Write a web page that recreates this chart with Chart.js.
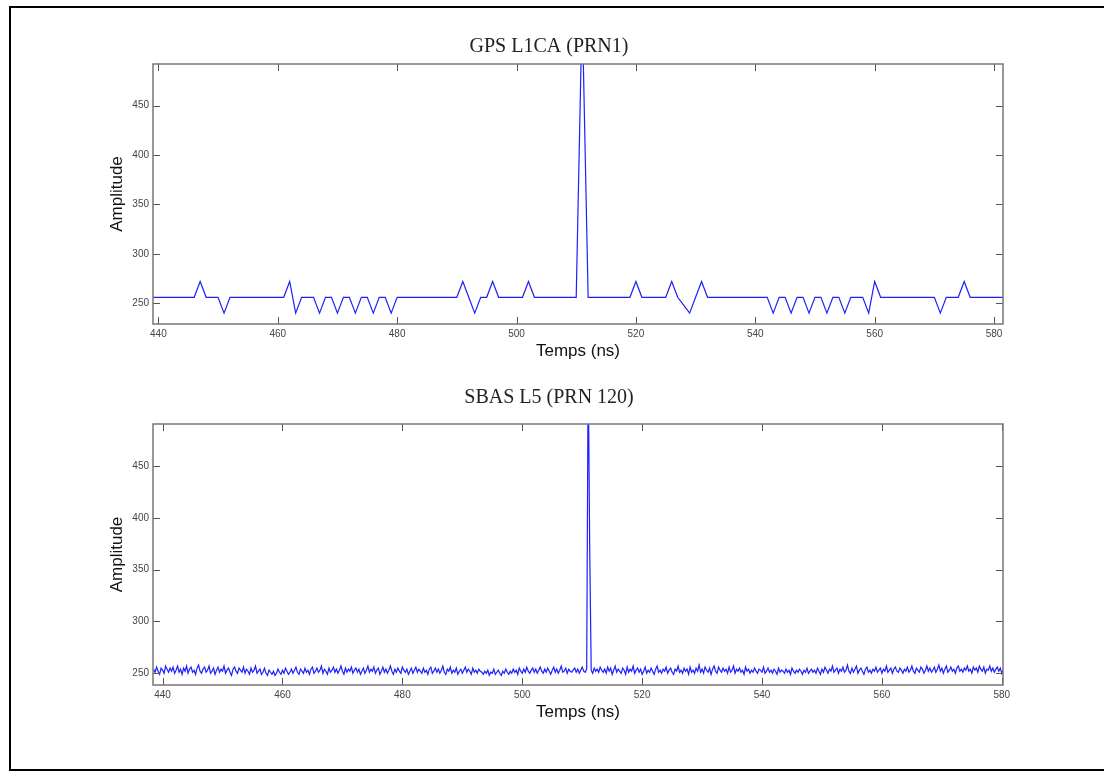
<!DOCTYPE html>
<html>
<head>
<meta charset="utf-8">
<script src="https://cdn.jsdelivr.net/npm/chart.js@4"></script>
<style>
  body { margin: 0; background: #fff; width: 1104px; height: 772px; overflow: hidden; position: relative; }
  #frame { position: absolute; left: 9px; top: 6px; width: 1110px; height: 761px; border: 2px solid #000; border-right: none; }
  .plot { position: absolute; left: 95px; width: 966px; }
  #gpsChart { top: 0px; height: 370px; }
  #sbasChart { top: 375px; height: 355px; }
</style>
</head>
<body>
<div id="frame"></div>
<canvas id="gpsChart" class="plot" width="966" height="370"></canvas>
<canvas id="sbasChart" class="plot" width="966" height="355"></canvas>
<script>
// GPS L1CA (PRN1) - one sample per ns, starting at 439 ns
const gpsStart = 439;
const gpsStep = 1;
const gpsValues = [
    256, 256, 256, 256, 256, 256, 256, 256, 272, 256, // 439-448
    256, 256, 240, 256, 256, 256, 256, 256, 256, 256, // 449-458
    256, 256, 256, 272, 240, 256, 256, 256, 240, 256, // 459-468
    256, 240, 256, 256, 240, 256, 256, 240, 256, 256, // 469-478
    240, 256, 256, 256, 256, 256, 256, 256, 256, 256, // 479-488
    256, 256, 272, 256, 240, 256, 256, 272, 256, 256, // 489-498
    256, 256, 256, 272, 256, 256, 256, 256, 256, 256, // 499-508
    256, 256, 550, 256, 256, 256, 256, 256, 256, 256, // 509-518
    256, 272, 256, 256, 256, 256, 256, 272, 256, 248, // 519-528
    240, 256, 272, 256, 256, 256, 256, 256, 256, 256, // 529-538
    256, 256, 256, 256, 240, 256, 256, 240, 256, 256, // 539-548
    240, 256, 256, 240, 256, 256, 240, 256, 256, 256, // 549-558
    240, 272, 256, 256, 256, 256, 256, 256, 256, 256, // 559-568
    256, 256, 240, 256, 256, 256, 272, 256, 256, 256, // 569-578
    256, 256, 256, 256                                 // 579-582
];

// SBAS L5 (PRN 120) - four samples per ns, starting at 438.5 ns
const sbasStart = 438.5;
const sbasStep = 0.25;
const sbasValues = [
    254,251,256,252,249,255,253,250,257,254,251,255,252,256,250,253,257,251,254,249,
    255,252,257,250,254,256,251,253,249,255,258,252,250,254,256,251,253,257,250,252,
    255,249,253,256,251,254,252,257,250,253,255,251,248,254,256,252,250,255,253,251,
    256,250,254,252,249,255,251,253,257,250,252,254,249,251,255,250,248,253,251,249,
    252,248,250,254,251,249,253,250,255,252,249,251,254,250,253,256,251,249,254,252,
    250,255,251,253,249,254,256,250,252,255,251,253,257,250,254,252,249,255,251,253,
    256,251,254,250,253,257,252,249,255,251,254,252,256,250,253,255,251,254,249,252,
    255,250,253,257,251,254,252,256,250,253,255,249,252,256,251,254,250,253,257,252,
    249,254,251,255,252,250,256,253,251,254,249,252,255,250,253,256,251,254,252,250,
    255,251,253,249,254,256,250,252,255,251,254,250,253,257,251,249,254,252,256,250,
    253,251,255,249,252,254,250,253,256,251,254,252,249,255,251,253,250,254,252,251,
    249,252,250,253,248,251,250,254,249,251,253,250,248,252,250,254,251,249,252,250,
    254,251,253,249,255,252,250,254,251,256,252,250,253,255,251,254,250,253,256,252,
    250,254,251,255,252,249,253,256,251,254,250,253,257,251,252,255,250,254,252,251,
    253,255,251,254,250,253,256,252,251,254,550,372,253,250,255,252,254,251,256,253,
    251,254,250,256,252,255,249,253,257,251,254,252,250,255,253,249,256,251,254,252,
    257,250,253,255,251,254,249,252,256,250,253,251,255,252,249,254,257,251,253,250,
    254,252,256,250,253,255,251,249,254,252,257,251,253,250,255,252,254,249,256,251,
    253,250,255,252,258,251,254,250,256,253,251,255,249,254,257,252,250,256,253,251,
    255,252,254,250,256,251,253,257,250,254,252,255,251,253,249,256,252,254,250,253,
    251,255,252,250,254,253,251,256,250,252,255,251,253,250,254,252,249,255,251,253,
    252,250,254,251,253,249,255,252,250,253,251,254,252,249,253,251,255,250,252,254,
    251,253,250,255,252,249,254,251,256,253,250,254,252,257,251,253,255,250,254,252,
    256,251,253,258,252,250,255,251,254,257,250,253,255,252,249,254,256,251,253,250,
    254,252,256,251,253,255,250,254,252,257,251,253,255,250,254,256,252,251,255,253,
    250,254,252,256,251,253,257,252,250,255,253,251,256,254,250,253,257,252,255,251,
    253,256,251,254,258,252,255,250,254,257,251,253,256,252,254,250,255,257,252,254,
    251,255,253,257,252,254,250,256,253,255,251,257,254,252,256,250,254,253,257,252,
    255,251,254,256,252,255,250,254,253
];

const xTicks = [440, 460, 480, 500, 520, 540, 560, 580];
const yTicks = [250, 300, 350, 400, 450];

function toPoints(start, step, values) {
    return values.map((v, i) => ({ x: start + i * step, y: v }));
}

// MATLAB style box with inward tick marks
const boxTicks = {
    id: 'boxTicks',
    afterDatasetsDraw(chart) {
        const { ctx, chartArea: a, scales } = chart;
        const len = 7;
        ctx.save();
        ctx.strokeStyle = '#555';
        ctx.lineWidth = 1;
        ctx.beginPath();
        scales.x.ticks.forEach(t => {
            const px = Math.round(scales.x.getPixelForValue(t.value)) + 0.5;
            ctx.moveTo(px, a.bottom); ctx.lineTo(px, a.bottom - len);
            ctx.moveTo(px, a.top); ctx.lineTo(px, a.top + len);
        });
        scales.y.ticks.forEach(t => {
            const py = Math.round(scales.y.getPixelForValue(t.value)) + 0.5;
            ctx.moveTo(a.left, py); ctx.lineTo(a.left + len, py);
            ctx.moveTo(a.right, py); ctx.lineTo(a.right - len, py);
        });
        ctx.stroke();
        ctx.strokeStyle = '#777';
        ctx.lineWidth = 1.5;
        ctx.strokeRect(a.left, a.top, a.right - a.left, a.bottom - a.top);
        ctx.restore();
    }
};

function makeConfig(title, points, xMin, xMax, yMin, yMax, pad) {
    return {
        type: 'line',
        data: {
            datasets: [{
                data: points,
                borderColor: 'rgb(30, 30, 255)',
                borderWidth: 1.2,
                pointRadius: 0,
                tension: 0,
                fill: false
            }]
        },
        options: {
            responsive: false,
            animation: false,
            parsing: false,
            layout: { padding: { left: 0, right: 58, top: 0, bottom: pad.bottom } },
            plugins: {
                legend: { display: false },
                tooltip: { enabled: false },
                title: {
                    display: true,
                    text: title,
                    color: '#222',
                    font: { family: '"Liberation Serif", "Times New Roman", serif', size: 20, weight: 'normal' },
                    padding: { top: pad.titleTop, bottom: pad.titleBottom }
                }
            },
            scales: {
                x: {
                    type: 'linear',
                    min: xMin,
                    max: xMax,
                    grid: { display: false, drawTicks: false },
                    border: { display: false },
                    ticks: {
                        color: '#444',
                        padding: 4,
                        maxRotation: 0,
                        autoSkip: false,
                        font: { family: '"Liberation Sans", Arial, sans-serif', size: 10 }
                    },
                    afterBuildTicks(scale) { scale.ticks = xTicks.map(v => ({ value: v })); },
                    title: {
                        display: true,
                        text: 'Temps (ns)',
                        color: '#111',
                        font: { family: '"Liberation Sans", Arial, sans-serif', size: 17 },
                        padding: { top: 0, bottom: 2 }
                    },
                    afterFit(scale) { scale.height = 40; }
                },
                y: {
                    min: yMin,
                    max: yMax,
                    grid: { display: false, drawTicks: false },
                    border: { display: false },
                    ticks: {
                        color: '#444',
                        padding: 4,
                        autoSkip: false,
                        font: { family: '"Liberation Sans", Arial, sans-serif', size: 10 }
                    },
                    afterBuildTicks(scale) { scale.ticks = yTicks.map(v => ({ value: v })); },
                    title: {
                        display: true,
                        text: 'Amplitude',
                        color: '#111',
                        font: { family: '"Liberation Sans", Arial, sans-serif', size: 17 },
                        padding: { top: 12, bottom: 0 }
                    },
                    afterFit(scale) { scale.width = 58; }
                }
            }
        },
        plugins: [boxTicks]
    };
}

var gpsChart = new Chart(
    document.getElementById('gpsChart'),
    makeConfig('GPS L1CA (PRN1)', toPoints(gpsStart, gpsStep, gpsValues),
        439.1, 581.5, 229, 492, { titleTop: 35, titleBottom: 5, bottom: 6 })
);

var sbasChart = new Chart(
    document.getElementById('sbasChart'),
    makeConfig('SBAS L5 (PRN 120)', toPoints(sbasStart, sbasStep, sbasValues),
        438.4, 580.2, 238.7, 490.6, { titleTop: 11, titleBottom: 14, bottom: 5 })
);
</script>
</body>
</html>
